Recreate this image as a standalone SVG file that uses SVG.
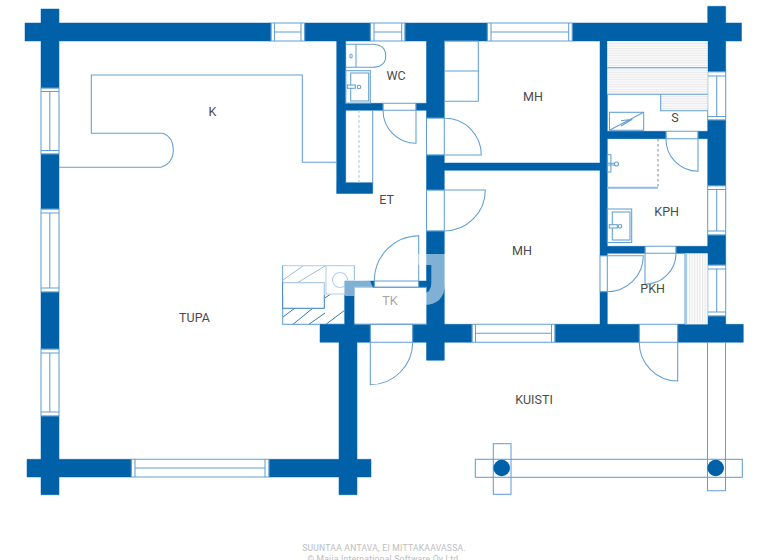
<svg xmlns="http://www.w3.org/2000/svg" xmlns:xlink="http://www.w3.org/1999/xlink" width="768" height="560" viewBox="0 0 768 560">
<style>
text{font-family:Roboto,"Liberation Sans",sans-serif}
.lb{font-size:12.5px;fill:#4a4a4a;text-anchor:middle}
.ft{font-size:8.6px;fill:#bdbdbd;text-anchor:middle;letter-spacing:.22px}
.l{fill:none;stroke:#629fd2;stroke-width:1.05}
.p{fill:none;stroke:#a5c8e6;stroke-width:1}
.h{fill:none;stroke:#2f7cbc;stroke-width:1}
.wall{fill:#0060a8}
.wallo{fill:none;stroke:#7fb2dc;stroke-width:1}
.post{fill:#0060a8}
</style>
<defs>
<path id="wp" d="M25,23H271V41H25Z M304.7,23H370.3V41H304.7Z M405,23H487.3V41H405Z M572.3,23H741.5V41H572.3Z
M41,9H59V88H41Z M41,154H59V209H41Z M41,292H59V349H41Z M41,416H59V494.7H41Z
M27,459.3H131.3V477H27Z M269,459.3H371V477H269Z M339,342H357V494.7H339Z
M320,324.3H370.3V342.3H320Z M412.7,324.3H472V342.3H412.7Z M555,324.3H639.3V342.3H555Z M677.7,324.3H743.3V342.3H677.7Z
M426.5,41H444.3V118H426.5Z M426.5,155H444.3V190H426.5Z M426.5,231H444.3V360.3H426.5Z
M444,163H600V170.3H444Z M600,41H607.3V255.7H600Z M600,291.7H607.3V325H600Z
M707.7,6.3H725.7V71.7H707.7Z M707.7,120H725.7V185.7H707.7Z M707.7,235H725.7V265H707.7Z M707.7,316H725.7V325H707.7Z
M607,131.3H666V138.7H607Z M698,131.3H708V138.7H698Z M607,246.3H645V253.3H607Z M676,246.3H708V253.3H676Z
M336.7,41H345.7V193.5H336.7Z M336.7,182.7H372.7V193.5H336.7Z M345,103.3H383V110.3H345Z M416,103.3H427V110.3H416Z
M344.7,281H354.3V325H344.7Z M344.7,281H374.3V287.3H344.7Z M418.7,281H427V287.3H418.7Z"/>
<pattern id="hs" width="4" height="2.4" patternUnits="userSpaceOnUse"><rect width="4" height="2.4" fill="#fbfbfb"/><rect width="4" height="1" fill="#e8e8e8"/></pattern>
<pattern id="vs" width="2.6" height="4" patternUnits="userSpaceOnUse"><rect width="2.6" height="4" fill="#fbfbfb"/><rect width="1" height="4" fill="#e8e8e8"/></pattern>
</defs>
<rect width="768" height="560" fill="#fff"/>

<g id="porch">
<rect class="l" x="475.3" y="459.3" width="267" height="18"/>
<rect class="l" x="493.3" y="443.7" width="17.7" height="50.6"/>
<path class="l" d="M707.5,342V490.7H725.5V342"/>
<circle class="post" cx="501.7" cy="468" r="8.3"/>
<circle class="post" cx="715.7" cy="468" r="8.3"/>
</g>

<g id="hatch-block">
<rect class="l" x="282.7" y="265.7" width="62" height="58.6" fill="#fff"/>
<path class="h" d="M283,317L295,308M293,324.3L313,308M309,324.3L325,313M326,324.3L345,310M325,298L332,293M283,280L303,266M297,283L325,266"/>
<rect class="l" x="282.7" y="282.7" width="41.6" height="25.6" style="fill:#fff;stroke:#3d84c0"/>
<rect class="l" x="326" y="265.7" width="28.3" height="28.3" style="fill:#fff"/>
<circle class="l" cx="340" cy="280" r="7.5"/>
</g>

<g id="walls">
<use xlink:href="#wp" href="#wp" class="wallo"/>
<use xlink:href="#wp" href="#wp" class="wall"/>
</g>

<g id="windows">
<path class="l" d="M271,23H304.7V41H271ZM274.5,23V41M301,23V41M274.5,32H301"/>
<path class="l" d="M370.3,23H405V41H370.3ZM374,23V41M401.7,23V41M374,32H401.7"/>
<path class="l" d="M487.3,23H572.3V41H487.3ZM491,23V41M568.7,23V41M491,32H568.7"/>
<path class="l" d="M41,88H59V154H41ZM41,91.5H59M41,150.5H59M49.8,91.5V150.5"/>
<path class="l" d="M41,209H59V292H41ZM41,213H59M41,288H59M49.8,213V288"/>
<path class="l" d="M41,349H59V416H41ZM41,353H59M41,412H59M49.8,353V412"/>
<path class="l" d="M131.3,459.3H269V477H131.3ZM135,459.3V477M265,459.3V477M135,468H265"/>
<path class="l" d="M472,324.3H555V342.3H472ZM475.5,324.3V342.3M551.5,324.3V342.3M475.5,333.3H551.5"/>
<path class="l" d="M707.7,71.7H725.7V120H707.7ZM707.7,76H725.7M707.7,116.5H725.7M716.7,76V116.5"/>
<path class="l" d="M707.7,185.7H725.7V235H707.7ZM707.7,189.5H725.7M707.7,231H725.7M716.7,189.5V231"/>
<path class="l" d="M707.7,265H725.7V316H707.7ZM707.7,269H725.7M707.7,312H725.7M716.7,269V312"/>
</g>

<g id="doors">
<path class="l" d="M426.5,118H444.3V155H426.5ZM444.3,118A37,37 0 0 1 481.3,155H444.3"/>
<path class="l" d="M426.5,190H444.3V231H426.5ZM444.3,190H485.3A41,41 0 0 1 444.3,231"/>
<path class="l" d="M383,103.3H416V110.3H383ZM383,110.3A33,33 0 0 0 416,143.3V110.3"/>
<path class="l" d="M666,131.3H698V138.7H666ZM666,138.7A32,32 0 0 0 698,171.3V138.7"/>
<path class="l" d="M645,246.3H676V253.3H645ZM676,253.3A31,31 0 0 1 645,284.3V253.3"/>
<path class="l" d="M600,255.7H607.3V291.7H600ZM607.3,255.7H643.3A36,36 0 0 1 607.3,291.7"/>
<path class="l" d="M639.3,324.3H677.7V342.3H639.3ZM639.3,342.3A38.5,38.5 0 0 0 677.7,381V342.3"/>
<path class="l" d="M370.3,324.3H412.7V342.3H370.3ZM412.7,342.3A42.5,42.5 0 0 1 370.3,384.7V342.3"/>
<path class="l" d="M374.3,281H418.7V287.3H374.3ZM374.3,281A45,45 0 0 1 418.7,235.7V281"/>
</g>

<g id="k-kitchen">
<path class="l" d="M337,162.3H302.3V75H91.3V133.3H163Q173.3,137 173.3,150Q173.3,163 161,167.3H59"/>
<text class="lb" x="212.5" y="115.7">K</text>
</g>

<g id="wc">
<path class="l" d="M345.7,44.3H372Q385.7,44.3 385.7,56Q385.7,67.3 372,67.3H345.7M356,44.3V67.3"/>
<ellipse class="l" cx="351" cy="56" rx="1.2" ry="2"/>
<rect class="l" x="345.7" y="70.7" width="24.6" height="32.5"/>
<rect class="l" x="350.7" y="73" width="18" height="28"/>
<rect class="l" x="347.3" y="85" width="8" height="3.3" style="fill:#fff"/>
<circle class="l" cx="359" cy="87" r="1.8"/>
<text class="lb" x="396" y="80">WC</text>
</g>

<g id="et">
<path class="l" d="M372.7,110.3V183"/>
<path d="M359,110.3V183" fill="none" stroke="#a5c8e6" stroke-width="1.2" stroke-dasharray="2.5 2.5"/>
<text class="lb" x="386.5" y="204">ET</text>
</g>

<g id="mh1">
<path class="l" d="M444.3,41H478.3V101.3H444.3M444.3,71H478.3"/>
<text class="lb" x="533" y="100.7">MH</text>
</g>

<g id="s-sauna">
<rect x="607.3" y="41" width="100.4" height="53.3" fill="url(#hs)"/>
<rect x="660.7" y="94.3" width="47" height="16.4" fill="url(#hs)"/>
<path class="l" d="M607.3,67.7H707.7M607.3,94.3H707.7M660.7,94.3V110.7H707.7"/>
<rect class="l" x="609.5" y="112.3" width="34.2" height="18"/>
<path class="l" d="M609.5,130.3L643.7,112.3M621,120.7L632.3,119.3L621,126"/>
<text class="lb" x="675" y="121.5">S</text>
</g>

<g id="kph">
<path d="M658,139V189" fill="none" stroke="#9a9a9a" stroke-width="1.2" stroke-dasharray="2.5 2.5"/>
<path d="M607.3,187.8H658" fill="none" stroke="#8fbae0" stroke-width="2"/>
<rect class="l" x="607.3" y="154.7" width="3.6" height="17.3"/>
<path class="l" d="M607.3,163.3H615M607.3,165H615"/>
<circle class="l" cx="616.5" cy="164" r="2"/>
<rect class="l" x="607.3" y="209" width="24.4" height="33.5"/>
<rect class="l" x="612.3" y="212" width="17.7" height="28"/>
<rect class="l" x="609.3" y="224.7" width="8" height="3.3" style="fill:#fff"/>
<circle class="l" cx="620" cy="226.3" r="1.8"/>
<text class="lb" x="666.7" y="215.7">KPH</text>
</g>

<g id="pkh">
<rect x="685" y="253.5" width="22.7" height="70.8" fill="url(#vs)"/>
<path class="p" d="M686.5,253.5V324.3"/>
<path class="l" d="M685,253.5V324.3"/>
<text class="lb" x="652.7" y="293">PKH</text>
</g>

<g id="mh2"><text class="lb" x="522" y="255">MH</text></g>
<g id="tupa"><text class="lb" x="194.5" y="321.5">TUPA</text></g>
<g id="kuisti"><text class="lb" x="534" y="404">KUISTI</text></g>
<g id="tk">
<path class="l" d="M354.3,287.3H427M354.3,324.3H427"/>
<text class="lb" x="390" y="305">TK</text>
</g>

<g id="watermark" fill="#fff" fill-opacity=".5">
<path d="M418,254H445V283Q445,305 423,305V293Q431.3,293 431.3,283V265H418Z"/>
<path d="M283,265H354.5V280H358L370,280.5L373,288H354.3V296H345V295H283Z"/>
<rect x="354.3" y="288" width="72" height="35"/>
</g>

<g id="footer">
<text class="ft" x="384" y="550.5">SUUNTAA ANTAVA, EI MITTAKAAVASSA.</text>
<text class="ft" x="384" y="562">© Maija International Software Oy Ltd.</text>
</g>
</svg>
